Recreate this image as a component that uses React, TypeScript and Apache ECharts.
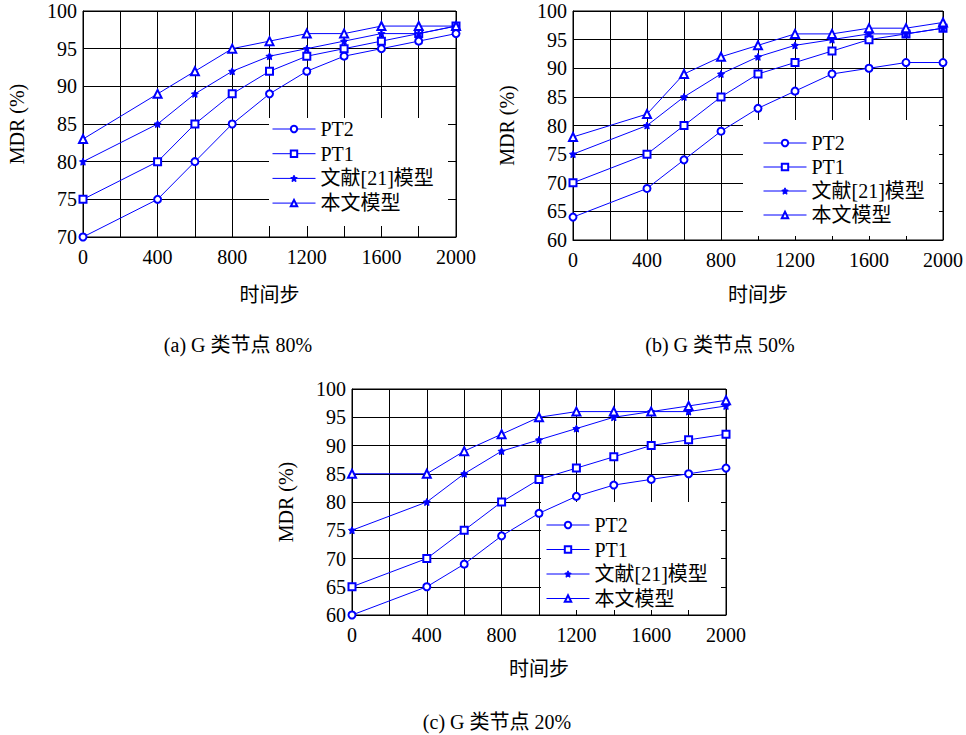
import React, { useEffect, useRef } from "react";
import * as echarts from "echarts";

const steps = [0, 400, 600, 800, 1000, 1200, 1400, 1600, 1800, 2000];
const seriesNames = ["PT2", "PT1", "文献[21]模型", "本文模型"];

// (a) G 类节点 80%
const aPT2 = [70, 75, 80, 85, 89, 92, 94, 95, 96, 97];
const aPT1 = [75, 80, 85, 89, 92, 94, 95, 96, 97, 98];
const aRef21 = [80, 85, 89, 92, 94, 95, 96, 97, 97, 98];
const aOurs = [83, 89, 92, 95, 96, 97, 97, 98, 98, 98];

// (b) G 类节点 50%
const bPT2 = [64, 69, 74, 79, 83, 86, 89, 90, 91, 91];
const bPT1 = [70, 75, 80, 85, 89, 91, 93, 95, 96, 97];
const bRef21 = [75, 80, 85, 89, 92, 94, 95, 96, 96, 97];
const bOurs = [78, 82, 89, 92, 94, 96, 96, 97, 97, 98];

// (c) G 类节点 20%
const cPT2 = [60, 65, 69, 74, 78, 81, 83, 84, 85, 86];
const cPT1 = [65, 70, 75, 80, 84, 86, 88, 90, 91, 92];
const cRef21 = [75, 80, 85, 89, 91, 93, 95, 96, 96, 97];
const cOurs = [85, 85, 89, 92, 95, 96, 96, 96, 97, 98];

const captions = ["(a) G 类节点 80%", "(b) G 类节点 50%", "(c) G 类节点 20%"];
const yMins = [70, 60, 60];
const yMax = 100;
const yInterval = 5;
const xMax = 2000;
const xInterval = 200;
const xLabelEvery = 400;

const FONT = "'Liberation Serif', 'Noto Sans CJK SC'";
const FS = 20;
const BLUE = "#0000ff";
const STAR =
  "path://M0,-10 L2.9,-4 9.5,-3.1 4.7,1.5 5.9,8.1 0,5 -5.9,8.1 -4.7,1.5 -9.5,-3.1 -2.9,-4Z";

const symbols = ["emptyCircle", "emptyRect", STAR, "emptyTriangle"];
const symbolSizes = [7, 7, 7, 8];

const panels = [
  {
    data: [aPT2, aPT1, aRef21, aOurs],
    grid: { left: 83, top: 11, width: 373, height: 226 },
    xNameGap: 48,
    legend: { left: 272, top: 119, itemGap: 4.7 },
    box: { x: 269, y: 118, width: 179, height: 108 },
    caption: { x: 238, y: 345 },
  },
  {
    data: [bPT2, bPT1, bRef21, bOurs],
    grid: { left: 573, top: 11, width: 374, height: 229 },
    xNameGap: 45,
    legend: { left: 763, top: 133, itemGap: 4 },
    box: { x: 743, y: 120, width: 196, height: 116 },
    caption: { x: 720, y: 345 },
  },
  {
    data: [cPT2, cPT1, cRef21, cOurs],
    grid: { left: 352, top: 389, width: 374, height: 226 },
    xNameGap: 44,
    legend: { left: 546, top: 515, itemGap: 4.5 },
    box: { x: 541, y: 502, width: 180, height: 108 },
    caption: { x: 497, y: 722 },
  },
];

export default function App() {
  const ref = useRef<HTMLDivElement>(null);

  useEffect(() => {
    if (!ref.current) return;
    const chart = echarts.init(ref.current, undefined, { renderer: "svg" });

    const grids = panels.map((p) => ({
      ...p.grid,
      show: true,
      borderColor: "#000",
      borderWidth: 1,
      backgroundColor: "transparent",
      containLabel: false,
    }));

    const xAxes = panels.map((p, i) => ({
      type: "value",
      gridIndex: i,
      min: 0,
      max: xMax,
      interval: xInterval,
      name: "时间步",
      nameLocation: "middle",
      nameGap: p.xNameGap,
      nameTextStyle: { fontFamily: FONT, fontSize: FS, color: "#000" },
      axisLine: { show: true, lineStyle: { color: "#000", width: 1 } },
      axisTick: { show: false },
      splitLine: { show: true, lineStyle: { color: "#000", width: 1 } },
      axisLabel: {
        margin: 10,
        fontFamily: FONT,
        fontSize: FS,
        color: "#000",
        hideOverlap: false,
        showMinLabel: true,
        showMaxLabel: true,
        formatter: (v: number) => (v % xLabelEvery === 0 ? String(v) : ""),
      },
    }));

    const yAxes = panels.map((p, i) => ({
      type: "value",
      gridIndex: i,
      min: yMins[i],
      max: yMax,
      interval: yInterval,
      name: "MDR (%)",
      nameLocation: "middle",
      nameGap: 56,
      nameRotate: 90,
      nameTextStyle: { fontFamily: FONT, fontSize: FS, color: "#000" },
      axisLine: { show: true, lineStyle: { color: "#000", width: 1 } },
      axisTick: { show: false },
      splitLine: { show: true, lineStyle: { color: "#000", width: 1 } },
      axisLabel: {
        margin: 6,
        fontFamily: FONT,
        fontSize: FS,
        color: "#000",
        showMinLabel: true,
        showMaxLabel: true,
      },
    }));

    const series: any[] = [];
    panels.forEach((p, gi) => {
      p.data.forEach((vals, si) => {
        series.push({
          type: "line",
          name: seriesNames[si],
          xAxisIndex: gi,
          yAxisIndex: gi,
          data: steps.map((s, k) => [s, vals[k]]),
          symbol: symbols[si],
          symbolSize: symbolSizes[si],
          showSymbol: true,
          showAllSymbol: true,
          color: BLUE,
          lineStyle: { color: BLUE, width: 1 },
          itemStyle: { color: BLUE, borderColor: BLUE, borderWidth: 1 },
          emphasis: { disabled: true },
        });
      });
    });

    const legends = panels.map((p) => ({
      data: seriesNames,
      orient: "vertical",
      left: p.legend.left,
      top: p.legend.top,
      padding: 0,
      itemGap: p.legend.itemGap,
      itemWidth: 43,
      itemHeight: 8,
      selectedMode: false,
      lineStyle: { width: 1 },
      itemStyle: { borderWidth: 1 },
      textStyle: {
        fontFamily: FONT,
        fontSize: FS,
        lineHeight: 20,
        color: "#000",
      },
    }));

    const graphics: any[] = [];
    panels.forEach((p, i) => {
      graphics.push({
        type: "rect",
        z: 1,
        shape: { ...p.box },
        style: { fill: "#fff", stroke: "none" },
        silent: true,
      });
      graphics.push({
        type: "text",
        x: p.caption.x,
        y: p.caption.y,
        style: {
          text: captions[i],
          fontFamily: FONT,
          fontSize: FS,
          fill: "#000",
          textAlign: "center",
          textVerticalAlign: "middle",
        },
      });
    });

    chart.setOption({
      animation: false,
      backgroundColor: "#fff",
      textStyle: { fontFamily: FONT },
      grid: grids,
      xAxis: xAxes,
      yAxis: yAxes,
      legend: legends,
      graphic: graphics,
      series,
    });

    return () => chart.dispose();
  }, []);

  return (
    <div
      ref={ref}
      style={{ position: "absolute", left: 0, top: 0, width: 966, height: 735 }}
    />
  );
}
